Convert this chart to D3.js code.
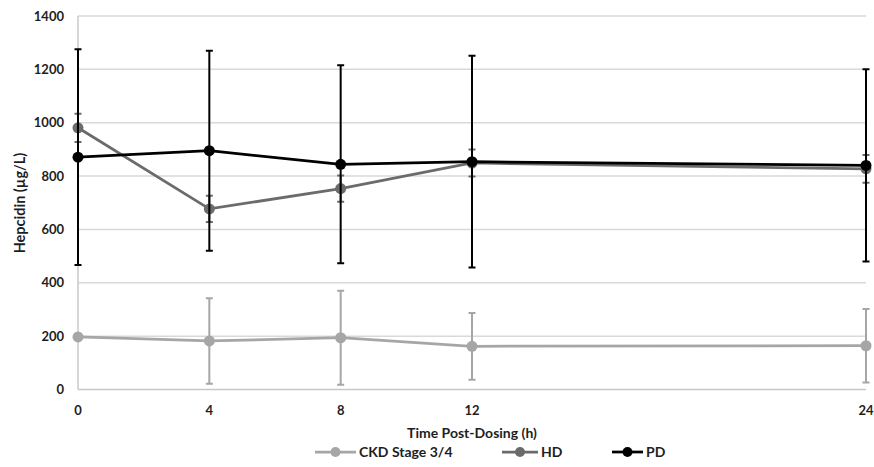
<!DOCTYPE html>
<meta charset="utf-8">
<style>
body { margin: 0; background: #fff; }
text { font-family: Lato, "Open Sans", sans-serif; font-weight: bold; fill: #1e1e1e; }
.grid line { stroke: #d9d9d9; stroke-width: 1.5px; }
</style>
<svg width="874" height="467"></svg>
<script src="https://d3js.org/d3.v7.min.js"></script>
<script>

var times = [0, 4, 8, 12, 24];
var yTicks = [0, 200, 400, 600, 800, 1000, 1200, 1400];

var ckdMean = [197, 182, 194, 162, 164];
var ckdErr  = [null, 160, 176, 125, 138];
var hdMean  = [981, 677, 753, 849, 827];
var hdErr   = [53, 49, 49, 51, 52];
var pdMean  = [871, 895, 844, 854, 840];
var pdErr   = [404, 375, 371, 397, 360];

var series = [
  {name: "CKD Stage 3/4", mean: ckdMean, err: ckdErr, color: "#a6a6a6", lx: 315, lw: 41},
  {name: "HD", mean: hdMean, err: hdErr, color: "#6b6b6b", lx: 502, lw: 36},
  {name: "PD", mean: pdMean, err: pdErr, color: "#000", lx: 612, lw: 31}
];

var svg = d3.select("svg");

var x = d3.scaleLinear().domain([0, 24]).range([78, 866]);
var y = d3.scaleLinear().domain([0, 1400]).range([389.5, 16]);

// grid
svg.append("g").attr("class", "grid")
  .selectAll("line").data(yTicks.slice(1)).enter().append("line")
    .attr("x1", x(0)).attr("x2", x(24))
    .attr("y1", function(d) { return y(d); })
    .attr("y2", function(d) { return y(d); });

// axes lines
svg.append("line").attr("x1", x(0)).attr("x2", x(24)).attr("y1", y(0)).attr("y2", y(0))
  .attr("stroke", "#c8c8c8").attr("stroke-width", 1.5);
svg.append("line").attr("x1", x(0)).attr("x2", x(0)).attr("y1", y(0)).attr("y2", y(1400))
  .attr("stroke", "#c8c8c8").attr("stroke-width", 1.5);

svg.append("g").selectAll("text").data(yTicks).enter().append("text")
    .attr("x", 64).attr("y", function(d) { return y(d); })
    .attr("dy", "0.35em").attr("text-anchor", "end")
    .style("font-size", "13px").text(function(d) { return d; });

svg.append("g").selectAll("text").data(times).enter().append("text")
    .attr("x", function(d) { return x(d); }).attr("y", 410)
    .attr("dy", "0.35em").attr("text-anchor", "middle")
    .style("font-size", "13px").text(function(d) { return d; });

svg.append("text").attr("x", 472).attr("y", 433).attr("dy", "0.35em")
  .attr("text-anchor", "middle").style("font-size", "14px").text("Time Post-Dosing (h)");

svg.append("text").attr("transform", "translate(20,203) rotate(-90)").attr("dy", "0.35em")
  .attr("text-anchor", "middle").style("font-size", "14.5px").text("Hepcidin (µg/L)");

var line = d3.line()
  .x(function(d, i) { return x(times[i]); })
  .y(function(d) { return y(d); });

series.forEach(function(s) {
  var g = svg.append("g");
  var pts = times.map(function(t, i) { return {t: t, m: s.mean[i], e: s.err[i]}; })
    .filter(function(d) { return d.e != null; });
  g.selectAll(".eb").data(pts).enter().append("path")
    .attr("fill", "none").attr("stroke", s.color).attr("stroke-width", 2)
    .attr("d", function(d) {
      var cx = x(d.t), y1 = y(d.m + d.e), y2 = y(d.m - d.e);
      return "M" + cx + "," + y1 + "V" + y2 +
        "M" + (cx - 3.5) + "," + y1 + "H" + (cx + 3.5) +
        "M" + (cx - 3.5) + "," + y2 + "H" + (cx + 3.5);
    });
  g.append("path").datum(s.mean)
    .attr("fill", "none").attr("stroke", s.color).attr("stroke-width", 2.75)
    .attr("d", line);
  g.selectAll("circle").data(s.mean).enter().append("circle")
    .attr("cx", function(d, i) { return x(times[i]); })
    .attr("cy", function(d) { return y(d); })
    .attr("r", 5.5).attr("fill", s.color);

  // legend
  var ly = 452;
  svg.append("line").attr("x1", s.lx).attr("x2", s.lx + s.lw).attr("y1", ly).attr("y2", ly)
    .attr("stroke", s.color).attr("stroke-width", 2.75);
  svg.append("circle").attr("cx", s.lx + s.lw / 2).attr("cy", ly).attr("r", 5).attr("fill", s.color);
  svg.append("text").attr("x", s.lx + s.lw + 3).attr("y", ly).attr("dy", "0.35em")
    .style("font-size", "14px").text(s.name);
});

</script>
